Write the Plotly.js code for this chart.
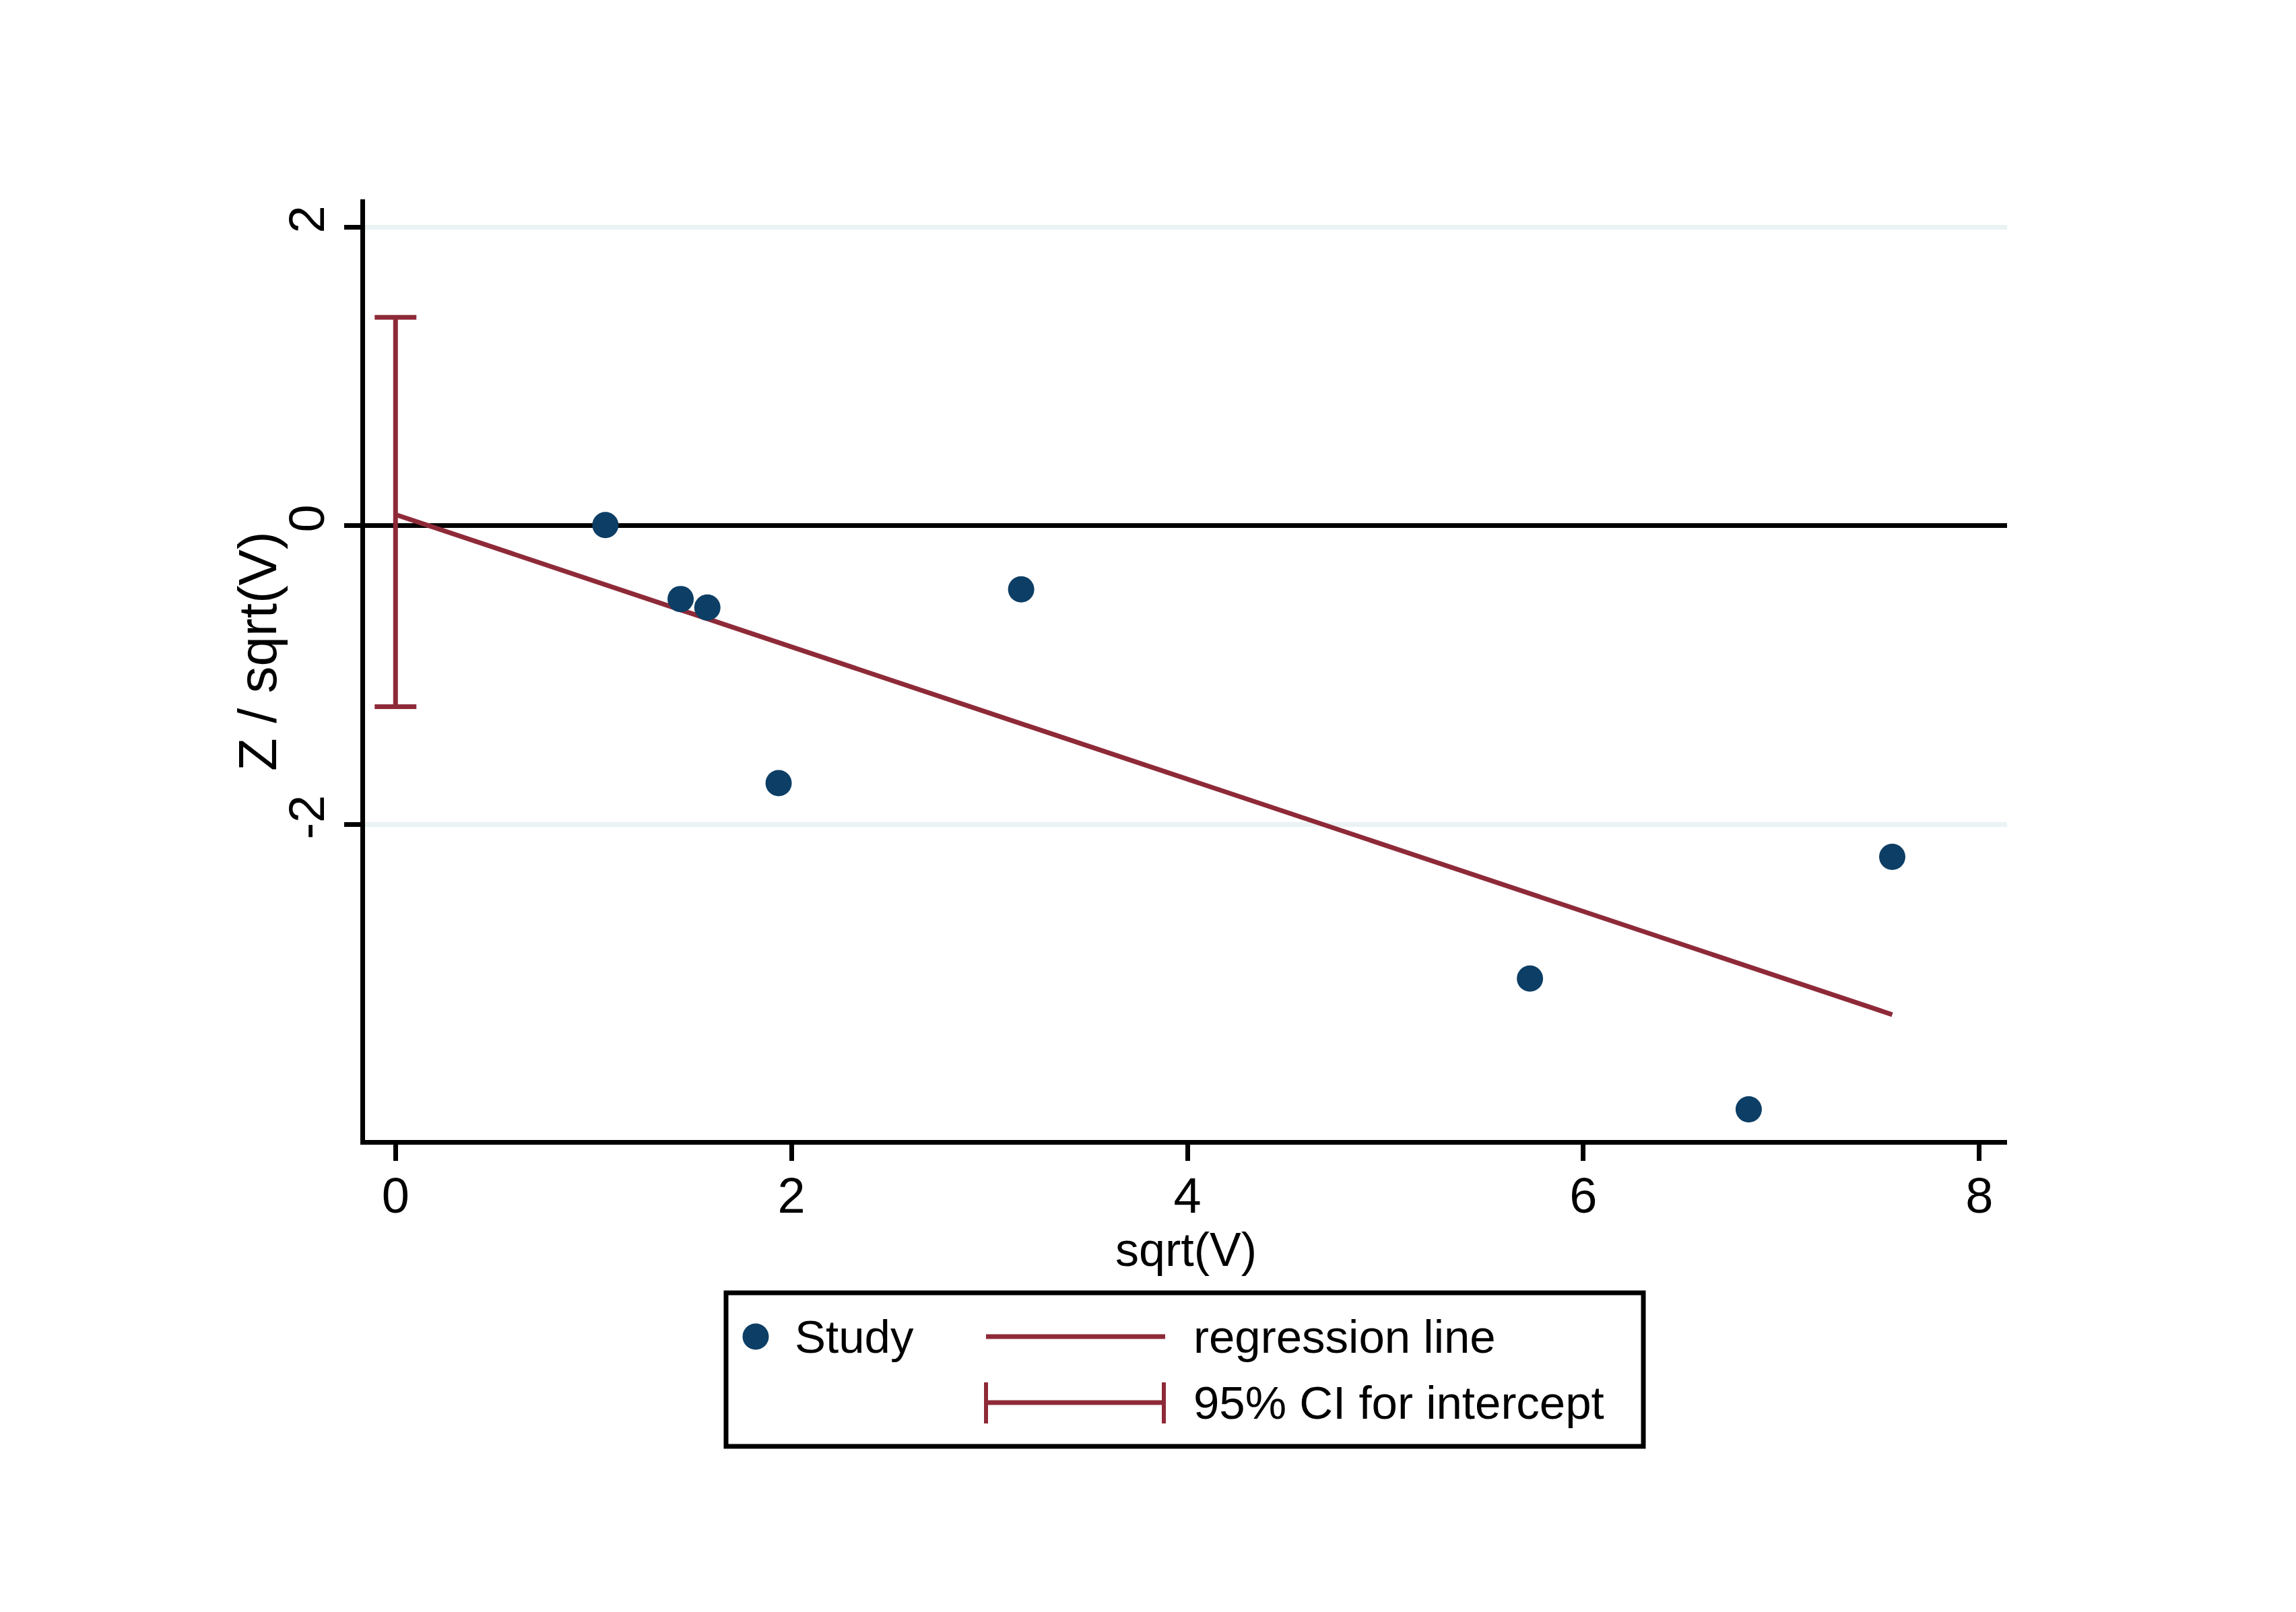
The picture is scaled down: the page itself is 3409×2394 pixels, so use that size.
<!DOCTYPE html>
<html>
<head>
<meta charset="utf-8">
<script src="https://cdn.plot.ly/plotly-3.0.1.min.js"></script>
<style>html,body{margin:0;padding:0;background:#fff;}#chart{width:3409px;height:2394px;}</style>
</head>
<body>
<div id="chart"></div>
<script>
// ---- data ----
const studyX = [1.06, 1.44, 1.575, 3.16, 1.935, 5.73, 6.835, 7.56];
const studyY = [0.005, -0.49, -0.547, -0.425, -1.722, -3.03, -3.905, -2.215];
const regIntercept = 0.075;
const regSlope = -0.4426;
const ciLow = -1.21;
const ciHigh = 1.395;
const xTicks = [0, 2, 4, 6, 8];
const yTicks = [-2, 0, 2];
const legendLabels = ['Study', 'regression line', '95% CI for intercept'];
const xTitle = 'sqrt(V)';
const yTitle = 'Z / sqrt(V)';

// ---- styling ----
const NAVY = '#0d3e65';
const MAROON = '#8e2a38';
const FONT = '"Liberation Sans", Arial, Helvetica, sans-serif';

const W = 3409, H = 2394;
const M = {l: 542, r: 429, t: 296, b: 701};
const PW = W - M.l - M.r, PH = H - M.t - M.b;
const px = x => (x - M.l) / PW;
const py = y => (H - M.b - y) / PH;

const xMaxStudy = Math.max(...studyX);
const regX = [0, xMaxStudy];
const regY = regX.map(v => regIntercept + regSlope * v);

const traces = [
  {
    x: [0], y: [(ciLow + ciHigh) / 2],
    type: 'scatter', mode: 'markers',
    marker: {size: 1, color: 'rgba(0,0,0,0)'},
    error_y: {type: 'data', symmetric: true, array: [(ciHigh - ciLow) / 2],
              color: MAROON, thickness: 7, width: 31},
    hoverinfo: 'skip', name: legendLabels[2]
  },
  {
    x: regX, y: regY, type: 'scatter', mode: 'lines',
    line: {color: MAROON, width: 7}, name: legendLabels[1]
  },
  {
    x: studyX, y: studyY, type: 'scatter', mode: 'markers',
    marker: {color: NAVY, size: 39, line: {width: 0}}, name: legendLabels[0]
  }
];

// custom legend (box with two columns, like the reference)
const shapes = [
  {type: 'rect', xref: 'paper', yref: 'paper', x0: px(1078), x1: px(2440), y0: py(1920), y1: py(2148),
   line: {color: '#000', width: 7}, fillcolor: 'rgba(0,0,0,0)'},
  {type: 'circle', xref: 'paper', yref: 'paper', x0: px(1102.5), x1: px(1141.5), y0: py(1965.5), y1: py(2004.5),
   line: {width: 0}, fillcolor: NAVY},
  {type: 'line', xref: 'paper', yref: 'paper', x0: px(1464), x1: px(1730), y0: py(1985), y1: py(1985),
   line: {color: MAROON, width: 7}},
  {type: 'line', xref: 'paper', yref: 'paper', x0: px(1464), x1: px(1728), y0: py(2083), y1: py(2083),
   line: {color: MAROON, width: 7}},
  {type: 'line', xref: 'paper', yref: 'paper', x0: px(1464), x1: px(1464), y0: py(2053), y1: py(2114),
   line: {color: MAROON, width: 6}},
  {type: 'line', xref: 'paper', yref: 'paper', x0: px(1728), x1: px(1728), y0: py(2053), y1: py(2114),
   line: {color: MAROON, width: 6}}
];

const annFont = {family: FONT, size: 69, color: '#000'};
const annotations = [
  {text: legendLabels[0], xref: 'paper', yref: 'paper', x: px(1178), y: py(1985), xanchor: 'left', yanchor: 'middle', showarrow: false, font: annFont},
  {text: legendLabels[1], xref: 'paper', yref: 'paper', x: px(1770), y: py(1985), xanchor: 'left', yanchor: 'middle', showarrow: false, font: annFont},
  {text: legendLabels[2], xref: 'paper', yref: 'paper', x: px(1770), y: py(2083), xanchor: 'left', yanchor: 'middle', showarrow: false, font: annFont},
  {text: yTitle, xref: 'paper', yref: 'paper', x: px(382), y: py(967), xanchor: 'center', yanchor: 'middle',
   textangle: -90, showarrow: false, font: {family: FONT, size: 80, color: '#000'}}
];

const layout = {
  width: W, height: H,
  margin: M,
  paper_bgcolor: '#fff', plot_bgcolor: '#fff',
  showlegend: false,
  font: {family: FONT, color: '#000'},
  xaxis: {
    range: [-0.154, 8.14], tickvals: xTicks, ticktext: xTicks.map(String),
    ticks: 'outside', ticklen: 24, tickwidth: 7, tickcolor: '#000',
    showline: true, linewidth: 7, linecolor: '#000',
    showgrid: false, zeroline: false,
    tickfont: {family: FONT, size: 74, color: '#000'},
    ticklabelstandoff: -12,
    title: {text: xTitle, font: {family: FONT, size: 70, color: '#000'}, standoff: 0}
  },
  yaxis: {
    range: [-4.11, 2.185], tickvals: yTicks, ticktext: yTicks.map(String),
    tickangle: -90,
    ticks: 'outside', ticklen: 24, tickwidth: 7, tickcolor: '#000',
    showline: true, linewidth: 7, linecolor: '#000',
    showgrid: true, gridcolor: '#eaf2f3', gridwidth: 7,
    zeroline: true, zerolinecolor: '#000', zerolinewidth: 7,
    tickfont: {family: FONT, size: 74, color: '#000'}
  },
  shapes: shapes,
  annotations: annotations
};

Plotly.newPlot('chart', traces, layout, {staticPlot: true, displayModeBar: false});
</script>
</body>
</html>
